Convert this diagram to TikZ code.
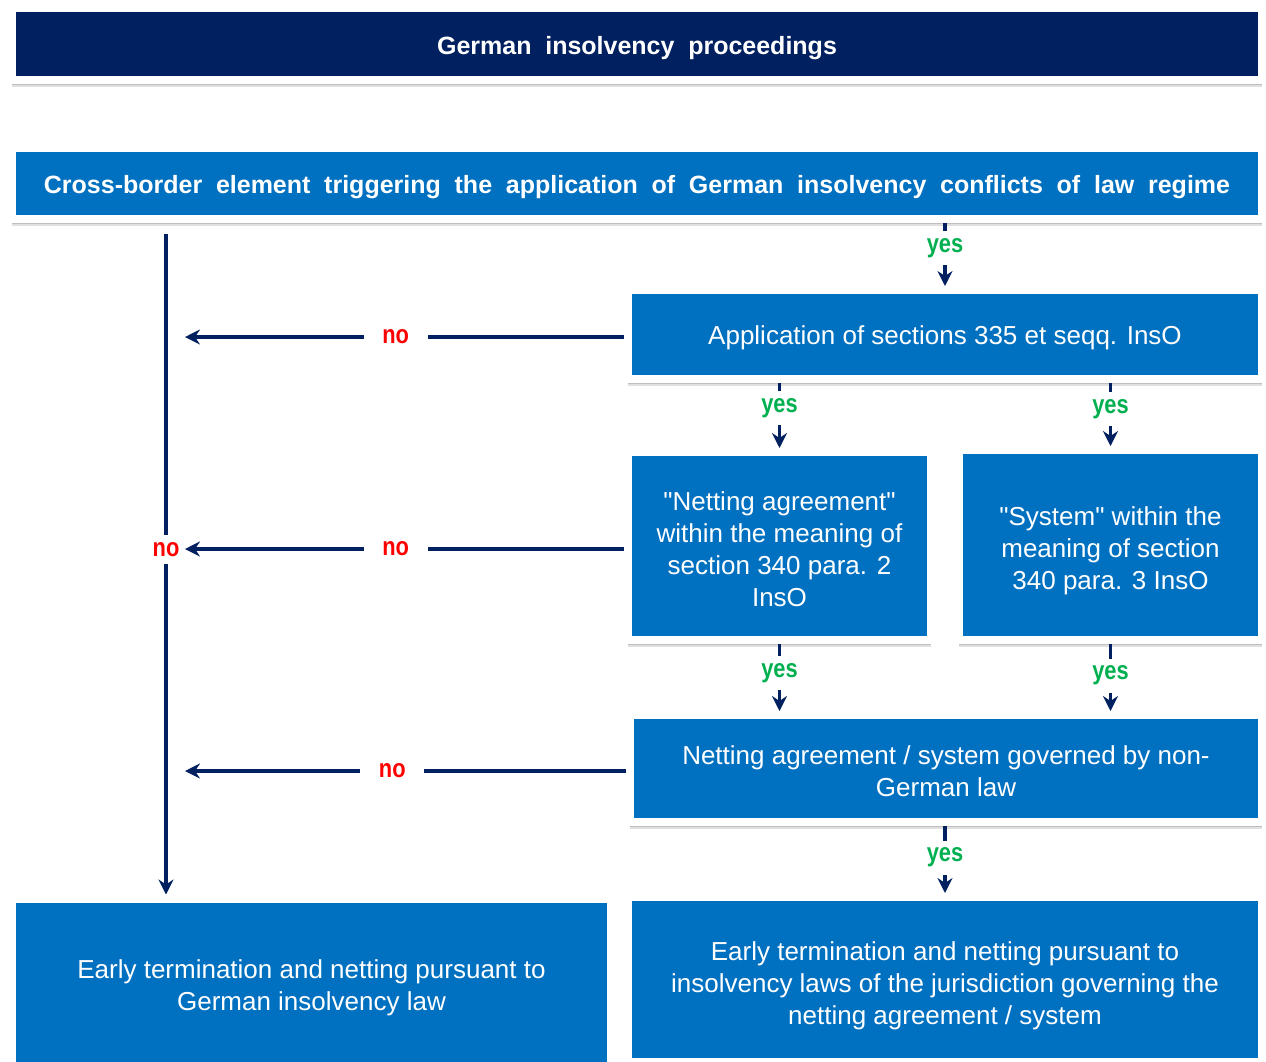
\documentclass[tikz,border=0pt]{standalone}
\usepackage{fontspec}
\setmainfont{Liberation Sans}
\newfontfamily\narrowfont[FakeStretch=0.84]{Liberation Sans}
\usetikzlibrary{arrows.meta,shadows}
\definecolor{navy}{HTML}{002060}
\definecolor{boxblue}{HTML}{0070C0}
\definecolor{yesgreen}{HTML}{00B050}
\definecolor{nored}{HTML}{FF0000}
\newcommand{\qq}{\textquotedbl}
\newcommand{\lift}[1]{\rule{0pt}{#1}}

\begin{document}
\begin{tikzpicture}[x=0.5pt,y=-0.5pt,
	box/.style={fill=boxblue,draw=white,line width=4pt,text=white,align=center,inner sep=0pt,
		font={\fontsize{13}{16}\selectfont},
		drop shadow={shadow xshift=0pt,shadow yshift=-3.5pt,opacity=.12,fill=black},
		drop shadow={shadow xshift=0pt,shadow yshift=-2.5pt,opacity=.15,fill=black}},
	head/.style={box,font={\fontsize{12.5}{15}\selectfont\bfseries\spaceskip=.55em\relax}},
	flow/.style={draw=navy,line width=1.6pt,-{Stealth[length=7.5pt,width=7.5pt,inset=2.5pt]}},
	yeslab/.style={fill=white,text=yesgreen,font={\fontsize{13}{15}\narrowfont\bfseries},
		inner sep=0pt,minimum width=36pt,minimum height=17pt},
	nolab/.style={yeslab,text=nored,minimum width=32pt,minimum height=14.5pt}]
	\useasboundingbox (0,0) rectangle (1266,1062);
	\clip (0,0) rectangle (1266,1062);
	\node[head,fill=navy,minimum width=625pt,minimum height=36pt] (title) at (637,44) {\lift{13pt}German insolvency proceedings};
	\node[head,minimum width=625pt,minimum height=35.5pt] (cross) at (637,183.5) {\lift{13pt}Cross-border element triggering the application of German insolvency conflicts of law regime};
	\node[box,minimum width=317pt,minimum height=44.5pt] (app) at (945,334.5) {\lift{13pt}Application of sections 335 et seqq. InsO};
	\node[box,minimum width=151.5pt,minimum height=94pt] (nag) at (779.5,546) {\lift{12.5pt}\qq Netting agreement\qq\\within the meaning of\\section 340 para. 2\\InsO};
	\node[box,minimum width=151.5pt,minimum height=95pt] (sys) at (1110.5,545) {\lift{15.5pt}\qq System\qq{} within the\\meaning of section\\340 para. 3 InsO};
	\node[box,minimum width=316pt,minimum height=53.5pt] (gov) at (946,768.5) {\lift{12.5pt}Netting agreement / system governed by non-\\German law};
	\node[box,minimum width=299.5pt,minimum height=86.5pt] (german) at (311.5,985) {\lift{12.5pt}Early termination and netting pursuant to\\German insolvency law};
	\node[box,minimum width=317pt,minimum height=82.5pt] (foreign) at (945,979.5) {\lift{15.5pt}Early termination and netting pursuant to\\insolvency laws of the jurisdiction governing the\\netting agreement / system};
	\coordinate (top) at (166,234);
	\coordinate (stop) at (185,0);
	\draw[flow] (top) -- node[nolab,pos=.478] {no} (german.north -| top);
	\draw[flow] (cross.south -| app) -- node[yeslab,pos=.4] {yes} (app.north);
	\draw[flow] (app.south -| nag) -- node[yeslab,pos=.38] {yes} (nag.north);
	\draw[flow] (app.south -| sys) -- node[yeslab,pos=.41] {yes} (sys.north);
	\draw[flow] (nag.south) -- node[yeslab,pos=.44] {yes} (nag.south |- gov.north);
	\draw[flow] (sys.south) -- node[yeslab,pos=.47] {yes} (sys.south |- gov.north);
	\draw[flow] (gov.south -| foreign) -- node[yeslab,pos=.47] {yes} (foreign.north);
	\draw[flow] ([yshift=-1.25pt]app.west) -- node[nolab,pos=.52] {no} ([yshift=-1.25pt]app.west -| stop);
	\draw[flow] ([yshift=-1.5pt]nag.west) -- node[nolab,pos=.52] {no} ([yshift=-1.5pt]nag.west -| stop);
	\draw[flow] ([yshift=-1.25pt]gov.west) -- node[nolab,pos=.53] {no} ([yshift=-1.25pt]gov.west -| stop);
\end{tikzpicture}
\end{document}
